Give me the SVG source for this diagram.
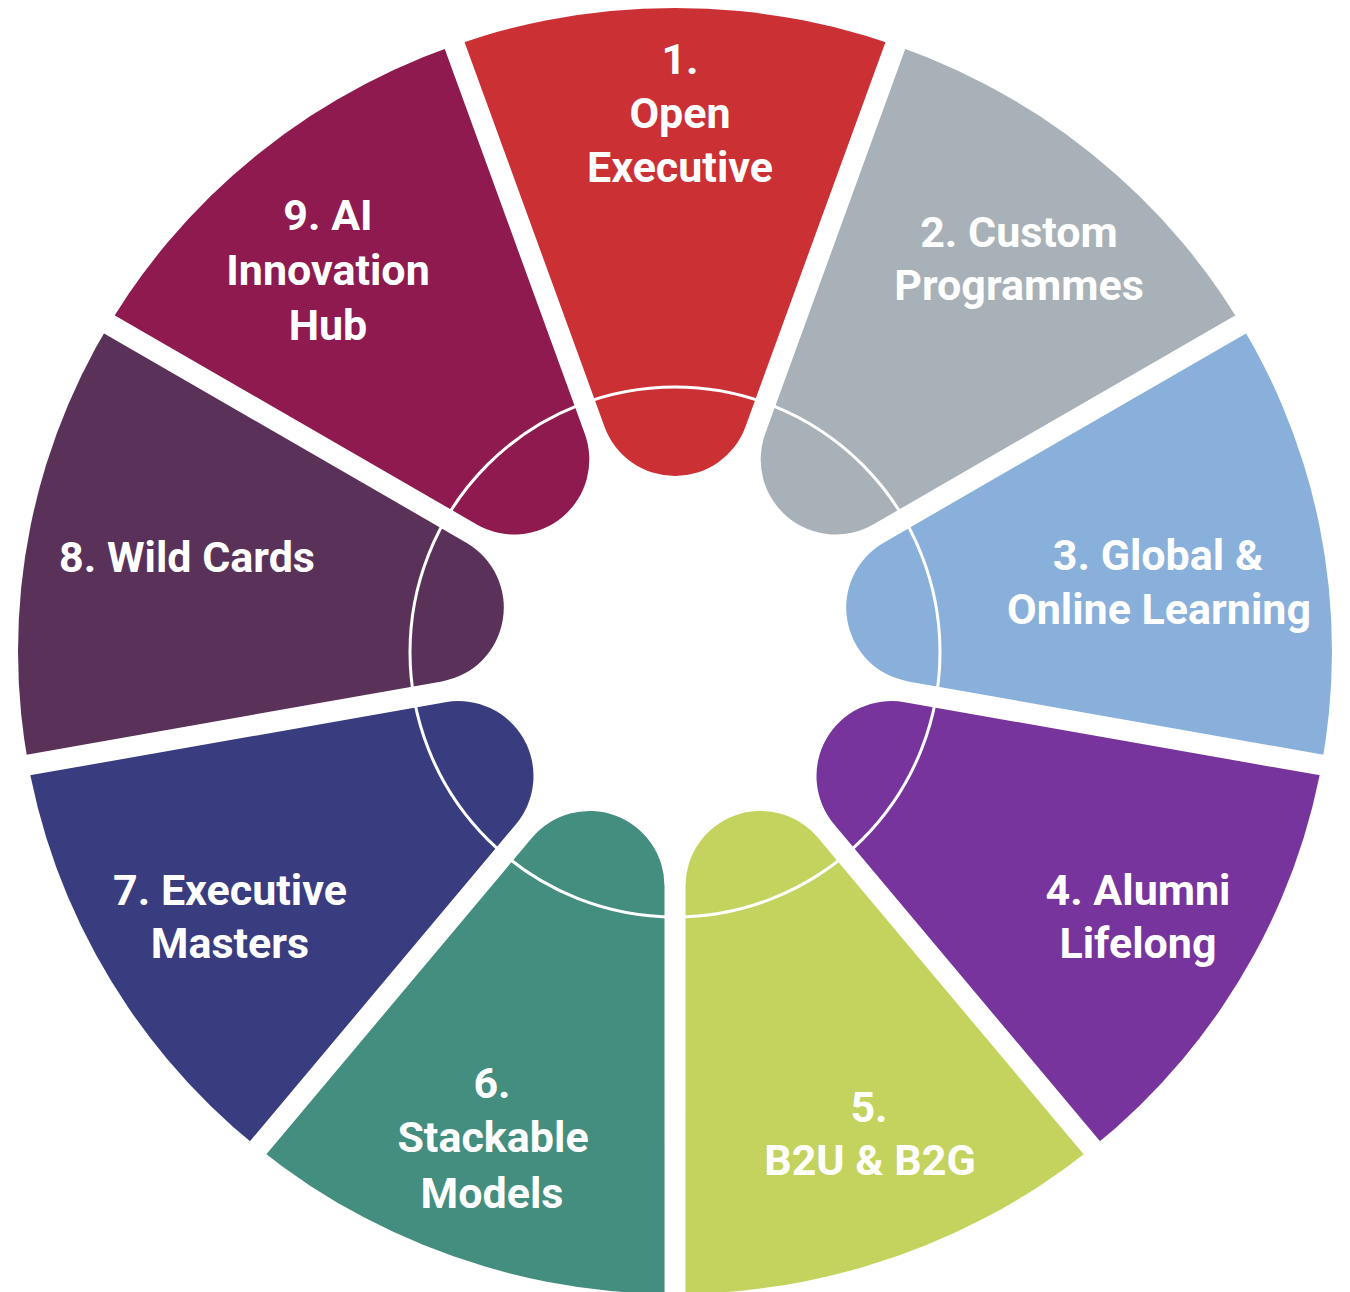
<svg xmlns="http://www.w3.org/2000/svg" xmlns:xlink="http://www.w3.org/1999/xlink" width="1350" height="1292" viewBox="0 0 1350 1292">
<style>
.lbl{font-family:Roboto,"Liberation Sans",sans-serif;font-weight:700;font-size:43px;fill:#ffffff;text-anchor:middle}
</style>
<defs>
<clipPath id="wheel"><ellipse cx="675" cy="651" rx="657" ry="643"/></clipPath>
<path id="petal" d="M224.35,70.48 L755.3,263.8 L755.3,-263.8 L224.35,-70.48 A75,75 0 0 0 224.35,70.48 Z"/>
</defs>
<rect width="1350" height="1292" fill="#ffffff"/>
<g id="node1">
<g clip-path="url(#wheel)"><use href="#petal" xlink:href="#petal" transform="translate(675 651) rotate(-90)" fill="#CB3035"/></g>
<text class="lbl" x="680" y="74">1.</text><text class="lbl" x="680" y="128">Open</text><text class="lbl" x="680" y="182">Executive</text>
</g>
<g id="node2">
<g clip-path="url(#wheel)"><use href="#petal" xlink:href="#petal" transform="translate(675 651) rotate(-50)" fill="#A8B1B7"/></g>
<text class="lbl" x="1019" y="247">2. Custom</text><text class="lbl" x="1019" y="300">Programmes</text>
</g>
<g id="node3">
<g clip-path="url(#wheel)"><use href="#petal" xlink:href="#petal" transform="translate(675 651) rotate(-10)" fill="#88B0DB"/></g>
<text class="lbl" x="1158" y="570">3. Global &amp;</text><text class="lbl" x="1159" y="624">Online Learning</text>
</g>
<g id="node4">
<g clip-path="url(#wheel)"><use href="#petal" xlink:href="#petal" transform="translate(675 651) rotate(30)" fill="#77349D"/></g>
<text class="lbl" x="1138" y="905">4. Alumni</text><text class="lbl" x="1138" y="958">Lifelong</text>
</g>
<g id="node5">
<g clip-path="url(#wheel)"><use href="#petal" xlink:href="#petal" transform="translate(675 651) rotate(70)" fill="#C4D35D"/></g>
<text class="lbl" x="869" y="1122">5.</text><text class="lbl" x="870" y="1175">B2U &amp; B2G</text>
</g>
<g id="node6">
<g clip-path="url(#wheel)"><use href="#petal" xlink:href="#petal" transform="translate(675 651) rotate(110)" fill="#448E7F"/></g>
<text class="lbl" x="492" y="1098">6.</text><text class="lbl" x="493" y="1152">Stackable</text><text class="lbl" x="492" y="1208">Models</text>
</g>
<g id="node7">
<g clip-path="url(#wheel)"><use href="#petal" xlink:href="#petal" transform="translate(675 651) rotate(150)" fill="#393C7E"/></g>
<text class="lbl" x="230" y="905">7. Executive</text><text class="lbl" x="230" y="958">Masters</text>
</g>
<g id="node8">
<g clip-path="url(#wheel)"><use href="#petal" xlink:href="#petal" transform="translate(675 651) rotate(190)" fill="#5A3259"/></g>
<text class="lbl" x="187" y="572">8. Wild Cards</text>
</g>
<g id="node9">
<g clip-path="url(#wheel)"><use href="#petal" xlink:href="#petal" transform="translate(675 651) rotate(230)" fill="#8E1A4F"/></g>
<text class="lbl" x="328" y="230">9. AI</text><text class="lbl" x="328" y="285">Innovation</text><text class="lbl" x="328" y="340">Hub</text>
</g>
<g id="connectors">
<circle cx="675" cy="652" r="265" fill="none" stroke="#ffffff" stroke-width="3"/>
</g>
</svg>
